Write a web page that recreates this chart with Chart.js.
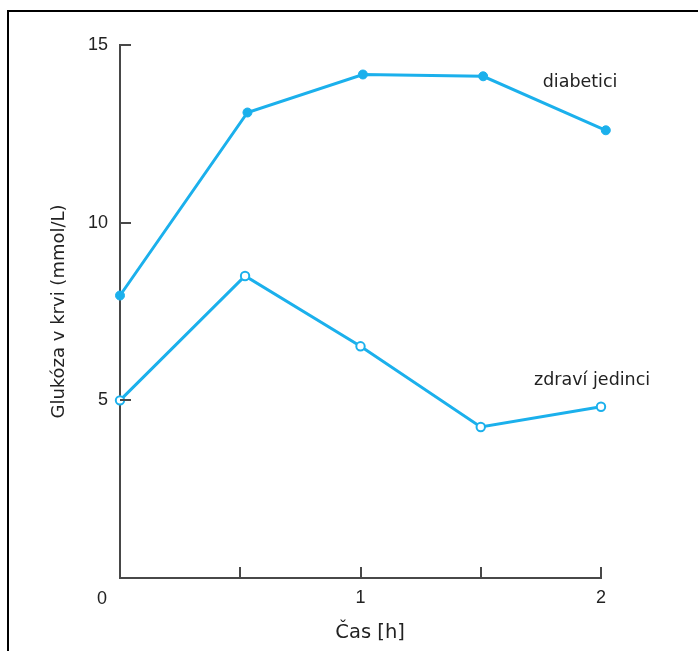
<!DOCTYPE html>
<html>
<head>
<meta charset="utf-8">
<script src="https://cdn.jsdelivr.net/npm/chart.js@4/dist/chart.umd.min.js"></script>
<style>
  html, body { margin: 0; padding: 0; background: #fff; }
  #wrap { position: relative; width: 698px; height: 651px; overflow: hidden; }
  #frame { position: absolute; left: 7px; top: 10px; width: 800px; height: 800px;
           border-left: 2px solid #000; border-top: 2px solid #000; box-sizing: border-box; }
  canvas { position: absolute; left: 0; top: 0; }
</style>
</head>
<body>
<div id="wrap">
  <div id="frame"></div>
  <canvas id="c" width="698" height="651"></canvas>
</div>
<script>
// ---- data ----
const seriesNames = ["diabetici", "zdraví jedinci"];
const diabeticiX = [0, 0.53, 1.01, 1.51, 2.02];
const diabeticiY = [7.95, 13.1, 14.17, 14.12, 12.6];
const zdraviX = [0, 0.52, 1.0, 1.5, 2.0];
const zdraviY = [5.0, 8.5, 6.52, 4.25, 4.82];
const xTickValues = [0, 0.5, 1, 1.5, 2];
const xTickLabels = ["0", "", "1", "", "2"];
const yTickValues = [5, 10, 15];
const yTickLabels = ["5", "10", "15"];
const xTitle = "Čas [h]";
const yTitle = "Glukóza v krvi (mmol/L)";
// label anchors in data coordinates
const seriesLabelX = [1.913, 1.963];
const seriesLabelY = [13.96, 5.57];
const xTitleAt = 1.04;

const BLUE = "#1bb0ec";
const AXIS = "#484848";
const TEXT = "#222";
const tickFont = { family: "Liberation Sans, Arial, sans-serif", size: 18 };
const titleFont = { family: "DejaVu Sans, sans-serif", size: 18 };

const toPts = (xs, ys) => xs.map((x, i) => ({ x: x, y: ys[i] }));

const decor = {
  id: "decor",
  afterDraw(chart) {
    const { ctx, scales: { x, y } } = chart;
    ctx.save();
    ctx.strokeStyle = AXIS;
    ctx.lineWidth = 2;
    // inward y ticks
    yTickValues.forEach(v => {
      const py = Math.round(y.getPixelForValue(v));
      ctx.beginPath();
      ctx.moveTo(x.left, py);
      ctx.lineTo(x.left + 11, py);
      ctx.stroke();
    });
    // inward x ticks
    xTickValues.forEach(v => {
      if (v === 0) return;
      const px = Math.round(x.getPixelForValue(v));
      ctx.beginPath();
      ctx.moveTo(px, y.bottom);
      ctx.lineTo(px, y.bottom - 11);
      ctx.stroke();
    });
    // origin label, shifted left
    ctx.fillStyle = TEXT;
    ctx.font = "18px Liberation Sans, Arial, sans-serif";
    ctx.textAlign = "center";
    ctx.textBaseline = "middle";
    ctx.fillText(xTickLabels[0], x.getPixelForValue(0) - 18, y.bottom + 21);
    // x axis title
    ctx.font = "19.5px DejaVu Sans, sans-serif";
    ctx.fillText(xTitle, x.getPixelForValue(xTitleAt), y.bottom + 55);
    // series labels
    ctx.font = "17.5px DejaVu Sans, sans-serif";
    seriesNames.forEach((n, i) => {
      ctx.fillText(n, x.getPixelForValue(seriesLabelX[i]), y.getPixelForValue(seriesLabelY[i]));
    });
    ctx.restore();
  }
};

new Chart(document.getElementById("c"), {
  type: "scatter",
  data: {
    datasets: [
      {
        label: seriesNames[0],
        data: toPts(diabeticiX, diabeticiY),
        showLine: true,
        borderColor: BLUE,
        backgroundColor: BLUE,
        borderWidth: 3,
        pointRadius: 4.5,
        pointBackgroundColor: BLUE,
        pointBorderColor: BLUE,
        pointBorderWidth: 1,
        clip: false
      },
      {
        label: seriesNames[1],
        data: toPts(zdraviX, zdraviY),
        showLine: true,
        borderColor: BLUE,
        backgroundColor: "#fff",
        borderWidth: 3,
        pointRadius: 4.2,
        pointBackgroundColor: "#fff",
        pointBorderColor: BLUE,
        pointBorderWidth: 2,
        clip: false
      }
    ]
  },
  options: {
    responsive: false,
    animation: false,
    events: [],
    layout: { padding: { left: 0, top: 45, right: 97, bottom: 0 } },
    plugins: { legend: { display: false }, tooltip: { enabled: false } },
    scales: {
      x: {
        type: "linear",
        min: 0, max: 2,
        afterFit(s) { s.height = 73; },
        afterBuildTicks(s) { s.ticks = xTickValues.map(v => ({ value: v })); },
        ticks: {
          color: TEXT,
          font: tickFont,
          padding: 9,
          maxRotation: 0,
          autoSkip: false,
          callback: (v) => { const i = xTickValues.indexOf(v); return i > 0 ? xTickLabels[i] : ""; }
        },
        grid: { display: true, drawOnChartArea: false, drawTicks: false },
        border: { display: true, color: AXIS, width: 2 },
        title: { display: false, text: xTitle }
      },
      y: {
        type: "linear",
        min: 0, max: 15,
        afterFit(s) { s.width = 120; },
        afterBuildTicks(s) { s.ticks = yTickValues.map(v => ({ value: v })); },
        ticks: {
          color: TEXT,
          font: tickFont,
          padding: 12,
          autoSkip: false,
          callback: (v) => { const i = yTickValues.indexOf(v); return i >= 0 ? yTickLabels[i] : ""; }
        },
        grid: { display: true, drawOnChartArea: false, drawTicks: false },
        border: { display: true, color: AXIS, width: 2 },
        title: { display: true, text: yTitle, color: TEXT, font: titleFont, padding: { top: 49, bottom: 0 } }
      }
    }
  },
  plugins: [decor]
});
</script>
</body>
</html>
